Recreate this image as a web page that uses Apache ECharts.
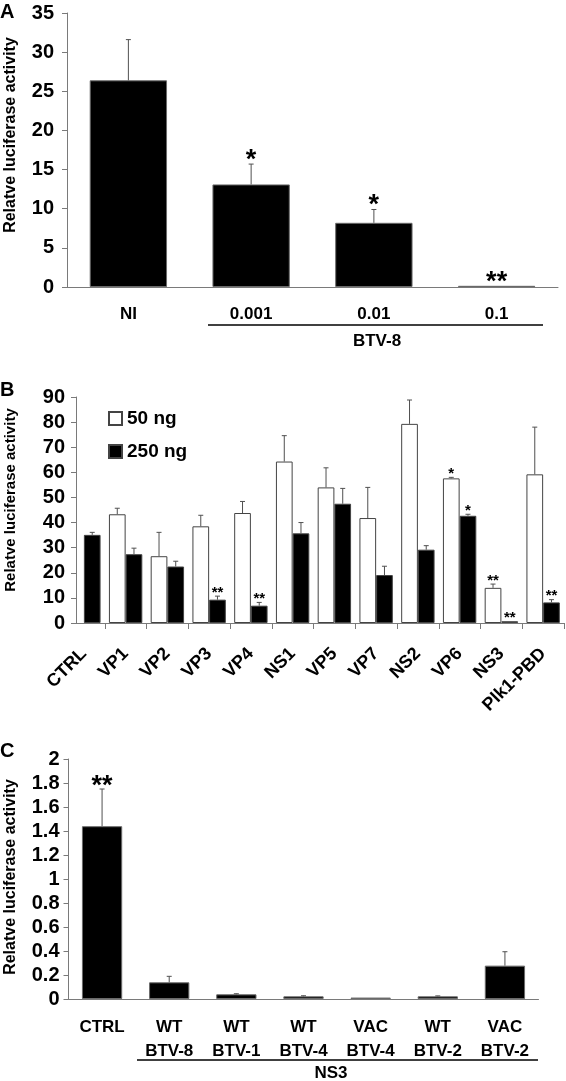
<!DOCTYPE html>
<html><head><meta charset="utf-8">
<script src="https://cdn.jsdelivr.net/npm/echarts@6/dist/echarts.min.js"></script>
<style>html,body{margin:0;padding:0;background:#fff}#c{width:566px;height:1081px}</style>
</head><body><div id="c"></div>
<script>
// Panel A
const catA = ['NI', '0.001', '0.01', '0.1'];
const valA = [26.4, 13.1, 8.2, 0.15];
const errA = [5.2, 2.6, 1.7, 0];
const starA = ['', '*', '*', '**'];

// Panel B
const catB = ['CTRL', 'VP1', 'VP2', 'VP3', 'VP4', 'NS1', 'VP5', 'VP7', 'NS2', 'VP6', 'NS3', 'Plk1-PBD'];
const val50 = [null, 43.3, 26.6, 38.5, 43.8, 64.3, 54.0, 41.8, 79.3, 57.6, 14.0, 59.2];
const err50 = [null, 2.4, 9.5, 4.4, 4.6, 10.3, 7.8, 12.2, 9.5, 0.4, 1.5, 18.8];
const star50 = ['', '', '', '', '', '', '', '', '', '*', '**', ''];
const val250 = [35.1, 27.4, 22.5, 9.3, 6.9, 35.7, 47.5, 19.1, 29.2, 42.7, 0.7, 8.2];
const err250 = [1.0, 2.4, 2.1, 1.4, 1.3, 4.3, 6.1, 3.5, 1.6, 0.6, 0, 1.1];
const star250 = ['', '', '', '**', '**', '', '', '', '', '*', '**', '**'];
const seriesNamesB = ['50 ng', '250 ng'];

// Panel C
const catC = ['CTRL\n', 'WT\nBTV-8', 'WT\nBTV-1', 'WT\nBTV-4', 'VAC\nBTV-4', 'WT\nBTV-2', 'VAC\nBTV-2'];
const valC = [1.44, 0.139, 0.039, 0.022, 0.012, 0.022, 0.278];
const errC = [0.31, 0.05, 0.005, 0.005, 0, 0.004, 0.116];
const starC = ['**', '', '', '', '', '', ''];

const yName = 'Relatve luciferase activity';
const groupA = 'BTV-8';
const groupC = 'NS3';

const FONT = '"Liberation Sans", Arial, sans-serif';
const AXIS = '#7a7a7a';
const ERR = '#505050';

function errSeries(xi, yi, vals, errs, stars, offsetFrac, starSize, starGap) {
  return {
    type: 'custom', xAxisIndex: xi, yAxisIndex: yi, silent: true, z: 5,
    data: vals.map((v, i) => [i, v, errs[i], stars[i]]),
    renderItem: function (params, api) {
      const v = api.value(1);
      if (v === null || v === undefined || isNaN(v)) return null;
      const e = api.value(2) || 0;
      const band = api.size([1, 0])[0];
      const base = api.coord([api.value(0), v]);
      const top = api.coord([api.value(0), v + e]);
      const x = base[0] + band * offsetFrac;
      const children = [];
      if (e > 0) {
        children.push({ type: 'line', shape: { x1: x, y1: base[1], x2: x, y2: top[1] }, style: { stroke: ERR, lineWidth: 1 } });
        children.push({ type: 'line', shape: { x1: x - 2.5, y1: top[1], x2: x + 2.5, y2: top[1] }, style: { stroke: ERR, lineWidth: 1 } });
      }
      const s = api.value(3);
      if (s) {
        children.push({ type: 'text', style: { text: s, x: x, y: top[1] - starGap, align: 'center', verticalAlign: 'top', font: 'bold ' + starSize + 'px ' + FONT, fill: '#000' } });
      }
      return { type: 'group', children: children };
    }
  };
}

function yAx(gi, max, interval, margin, extra) {
  return Object.assign({
    type: 'value', gridIndex: gi, min: 0, max: max, interval: interval,
    splitLine: { show: false },
    axisLine: { show: true, lineStyle: { color: AXIS, width: 1 } },
    axisTick: { show: true, length: 5, lineStyle: { color: AXIS } },
    axisLabel: { color: '#000', fontWeight: 'bold', fontSize: 20, fontFamily: FONT, margin: margin }
  }, extra || {});
}

const chart = echarts.init(document.getElementById('c'), null, { renderer: 'canvas' });
const option = {
  animation: false,
  backgroundColor: '#fff',
  grid: [
    { left: 67, top: 13, width: 491, height: 274 },
    { left: 63, top: 397, width: 501, height: 226 },
    { left: 68.5, top: 759, width: 470, height: 240 }
  ],
  legend: {
    data: seriesNamesB, orient: 'vertical', left: 103, top: 404, itemWidth: 13, itemHeight: 13, itemGap: 14,
    textStyle: { fontSize: 19, fontWeight: 'bold', fontFamily: FONT, color: '#000' }, icon: 'rect'
  },
  xAxis: [
    { type: 'category', gridIndex: 0, data: catA,
      axisLine: { lineStyle: { color: AXIS } }, axisTick: { length: 6, lineStyle: { color: AXIS } },
      axisLabel: { color: '#000', fontWeight: 'bold', fontSize: 17, fontFamily: FONT, margin: 19 } },
    { type: 'category', gridIndex: 1, data: catB,
      axisLine: { show: false },
      axisTick: { show: true, length: 6, lineStyle: { color: AXIS }, interval: function (i) { return i !== 0; } },
      axisLabel: { color: '#000', fontWeight: 'bold', fontSize: 18, fontFamily: FONT, margin: 28, rotate: 45, interval: 0 } },
    { type: 'category', gridIndex: 2, data: catC,
      axisLine: { lineStyle: { color: AXIS } }, axisTick: { length: 6, lineStyle: { color: AXIS } },
      axisLabel: { color: '#000', fontWeight: 'bold', fontSize: 17, fontFamily: FONT, margin: 16, lineHeight: 24, interval: 0, verticalAlign: 'top' } }
  ],
  yAxis: [
    yAx(0, 35, 5, 13),
    yAx(1, 90, 10, 11, { offset: -13 }),
    yAx(2, 2, 0.2, 9)
  ],
  series: [
    { type: 'bar', xAxisIndex: 0, yAxisIndex: 0, data: valA, barCategoryGap: '37%',
      itemStyle: { color: '#000', borderColor: '#6a6a6a', borderWidth: 1 } },
    errSeries(0, 0, valA, errA, starA, 0, 27, 17),
    { type: 'bar', name: seriesNamesB[0], xAxisIndex: 1, yAxisIndex: 1, data: val50, barCategoryGap: '20%', barGap: '0%',
      itemStyle: { color: '#fff', borderColor: '#444', borderWidth: 1 } },
    { type: 'bar', name: seriesNamesB[1], xAxisIndex: 1, yAxisIndex: 1, data: val250, barCategoryGap: '20%', barGap: '0%',
      itemStyle: { color: '#000', borderColor: '#444', borderWidth: 1 } },
    errSeries(1, 1, val50, err50, star50, -0.2, 15, 11),
    errSeries(1, 1, val250, err250, star250, 0.2, 15, 11),
    { type: 'bar', xAxisIndex: 2, yAxisIndex: 2, data: valC, barCategoryGap: '40%',
      itemStyle: { color: '#000', borderColor: '#6a6a6a', borderWidth: 1 } },
    errSeries(2, 2, valC, errC, starC, 0, 27, 16)
  ],
  graphic: [
    { type: 'text', left: 0, top: 2, style: { text: 'A', font: 'bold 20px ' + FONT, fill: '#000' } },
    { type: 'text', left: 0, top: 380, style: { text: 'B', font: 'bold 20px ' + FONT, fill: '#000' } },
    { type: 'text', left: 0, top: 741, style: { text: 'C', font: 'bold 20px ' + FONT, fill: '#000' } },
    { type: 'text', x: 11, y: 135, rotation: Math.PI / 2, style: { text: yName, font: 'bold 16px ' + FONT, fill: '#000', align: 'center', verticalAlign: 'middle' } },
    { type: 'text', x: 11, y: 500, rotation: Math.PI / 2, style: { text: yName, font: 'bold 15px ' + FONT, fill: '#000', align: 'center', verticalAlign: 'middle' } },
    { type: 'text', x: 11, y: 877, rotation: Math.PI / 2, style: { text: yName, font: 'bold 16px ' + FONT, fill: '#000', align: 'center', verticalAlign: 'middle' } },
    { type: 'line', shape: { x1: 208, y1: 325, x2: 543, y2: 325 }, style: { stroke: '#000', lineWidth: 1.5 } },
    { type: 'text', x: 377, y: 341, style: { text: groupA, font: 'bold 17px ' + FONT, fill: '#000', align: 'center', verticalAlign: 'middle' } },
    { type: 'line', shape: { x1: 137, y1: 1060, x2: 538, y2: 1060 }, style: { stroke: '#000', lineWidth: 1.5 } },
    { type: 'text', x: 331, y: 1073, style: { text: groupC, font: 'bold 17px ' + FONT, fill: '#000', align: 'center', verticalAlign: 'middle' } }
  ]
};
chart.setOption(option);

// Panel B baseline: starts at the (offset) y-axis line, ends at the grid's right edge
const p0 = chart.convertToPixel({ xAxisIndex: 1, yAxisIndex: 1 }, [0, 0]);
const gridB = option.grid[1];
const axisX = gridB.left - option.yAxis[1].offset;
chart.setOption({ graphic: option.graphic.concat([
  { type: 'line', shape: { x1: axisX, y1: Math.round(p0[1]) + 0.5, x2: gridB.left + gridB.width, y2: Math.round(p0[1]) + 0.5 }, style: { stroke: AXIS, lineWidth: 1 } }
]) });
</script>
</body></html>
